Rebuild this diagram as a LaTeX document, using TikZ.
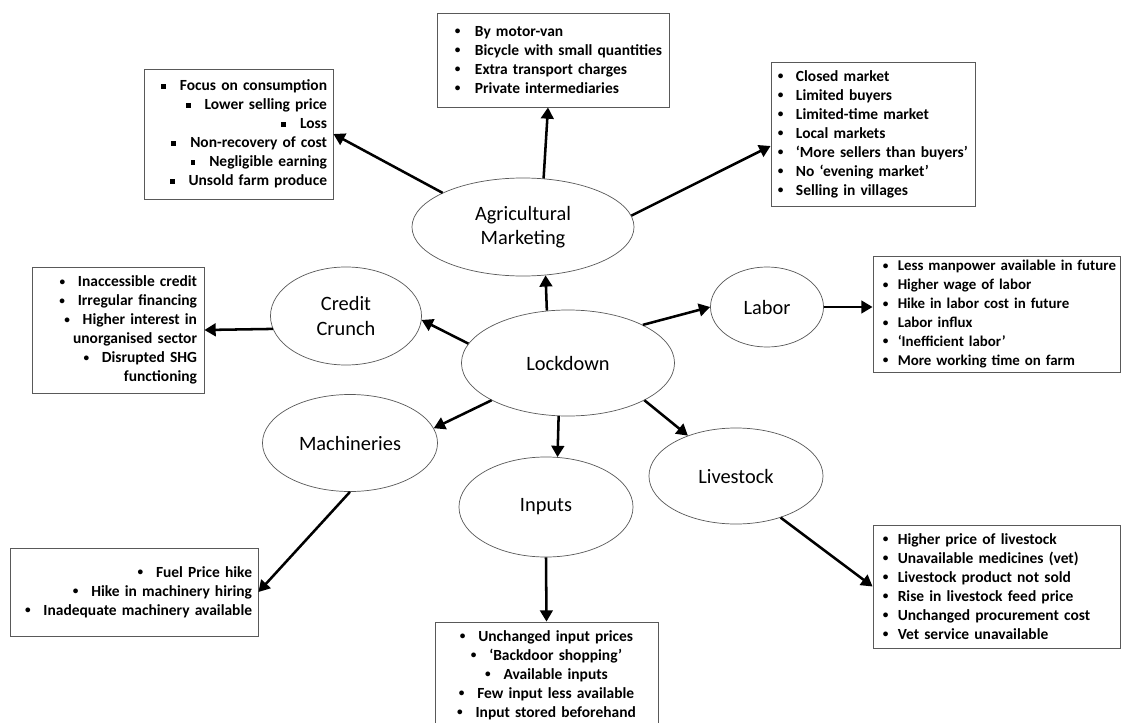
\documentclass[tikz,border=0pt]{standalone}
\usepackage{fontspec}
\setmainfont{Carlito}
\usepackage{tikz}
\usetikzlibrary{shapes.geometric}
\usetikzlibrary{arrows.meta}
\tikzset{>={Triangle[length=8pt,width=9pt]}}
\newlength{\bulw}
\setlength{\bulw}{0.45cm}
\newcommand{\boxfont}{\bfseries\fontsize{11}{13.5}\selectfont}
\newcommand{\ovalfont}{\fontsize{14.5}{17.5}\selectfont}
\newcommand{\dotbul}{\raisebox{0.2ex}{\fontsize{8}{8}\selectfont\textbullet}}
\newcommand{\sqbul}{\rule[1.3pt]{3.4pt}{3.4pt}\hspace{0.35cm}}
\newcommand{\rbul}{\dotbul\hspace{0.32cm}}
\newcommand{\lbul}[1]{\mbox{\makebox[\bulw][l]{\dotbul}#1}}

\begin{document}
\begin{tikzpicture}[x=0.025cm, y=-0.025cm,
    oval/.style={ellipse, draw=gray!70!black, line width=0.5pt, inner sep=0pt, align=center, font=\ovalfont},
    box/.style={draw=gray!70!black, line width=0.6pt, inner ysep=0pt, font=\boxfont},
    link/.style={->, line width=1.8pt}]
    \path[use as bounding box, fill=white] (0,0) rectangle (1121,723);
            % ovals
            \node[oval, minimum width=5.55cm, minimum height=2.45cm] (agri-marketing) at (523,227) {Agricultural\\Marketing};
            \node[oval, minimum width=5.325cm, minimum height=2.65cm] (lockdown) at (568,363) {Lockdown};
            \node[oval, minimum width=3.775cm, minimum height=2.45cm] (credit-crunch) at (346,316) {Credit\\Crunch};
            \node[oval, minimum width=4.375cm, minimum height=2.425cm] (machineries) at (350,443) {Machineries};
            \node[oval, minimum width=2.825cm, minimum height=2cm] (labor) at (767,307) {Labor};
            \node[oval, minimum width=4.35cm, minimum height=2.4cm] (livestock) at (736,476) {Livestock};
            \node[oval, minimum width=4.35cm, minimum height=2.5cm] (inputs) at (546,507) {Inputs};
            % boxes
            \node[box, align=right, inner xsep=0.15cm, text width=4.425cm, minimum height=3.25cm] (focus-box) at (238.5,134) {\sqbul Focus on consumption\\ \sqbul Lower selling price\\ \sqbul Loss\\ \sqbul Non-recovery of cost\\ \sqbul Negligible earning\\ \sqbul Unsold farm produce};
            \node[box, align=left, inner xsep=0.45cm, text width=4.9cm, minimum height=2.35cm] (transport-box) at (553,60) {\setlength{\bulw}{0.5cm}\lbul{By motor-van}\\ \lbul{Bicycle with small quantities}\\ \lbul{Extra transport charges}\\ \lbul{Private intermediaries}};
            \node[box, align=left, inner xsep=0.175cm, text width=4.75cm, minimum height=3.6cm] (market-box) at (873,134) {\lbul{Closed market}\\ \lbul{Limited buyers}\\ \lbul{Limited-time market}\\ \lbul{Local markets}\\ \lbul{‘More sellers than buyers’}\\ \lbul{No ‘evening market’}\\ \lbul{Selling in villages}};
            \node[box, align=right, inner xsep=0.175cm, text width=3.95cm, minimum height=3.15cm] (credit-box) at (118,330) {\rbul Inaccessible credit\\ \rbul Irregular financing\\ \rbul Higher interest in\\ unorganised sector\\ \rbul Disrupted SHG\\ functioning};
            \node[box, align=left, inner xsep=0.25cm, text width=5.675cm, minimum height=2.9cm, font=\bfseries\fontsize{10.6}{13.5}\selectfont] (labor-box) at (996.5,314) {\setlength{\bulw}{0.37cm}\lbul{Less manpower available in future}\\ \lbul{Higher wage of labor}\\ \lbul{Hike in labor cost in future}\\ \lbul{Labor influx}\\ \lbul{‘Inefficient labor’}\\ \lbul{More working time on farm}};
            \node[box, align=left, inner xsep=0.25cm, text width=5.675cm, minimum height=3.075cm] (livestock-box) at (996.5,586.5) {\setlength{\bulw}{0.37cm}\lbul{Higher price of livestock}\\ \lbul{Unavailable medicines (vet)}\\ \lbul{Livestock product not sold}\\ \lbul{Rise in livestock feed price}\\ \lbul{Unchanged procurement cost}\\ \lbul{Vet service unavailable}};
            \node[box, align=right, inner xsep=0.15cm, text width=5.9cm, minimum height=2.2cm] (machinery-box) at (134,592) {\rbul Fuel Price hike\\ \rbul Hike in machinery hiring\\ \rbul Inadequate machinery available};
            \node[box, align=center, inner xsep=0.2cm, text width=5.175cm, minimum height=2.65cm] (inputs-box) at (546.5,675) {\rbul Unchanged input prices\\ \rbul ‘Backdoor shopping’\\ \rbul Available inputs\\ \rbul Few input less available\\ \rbul Input stored beforehand};
            % links
            \draw[link] (lockdown.112) -- (agri-marketing.295);
            \draw[link] (lockdown.169) -- (credit-crunch.-3);
            \draw[link] (lockdown.206) -- (machineries.10);
            \draw[link] (lockdown.260) -- (inputs.77);
            \draw[link] (lockdown.27) -- (labor.west);
            \draw[link] (lockdown.334) -- (livestock.140);
            \draw[link] (agri-marketing.157) -- (focus-box.east);
            \draw[link] (agri-marketing.67) -- ([xshift=-0.125cm]transport-box.south);
            \draw[link] (agri-marketing.6) -- ([yshift=-0.3cm]market-box.west);
            \draw[link] (credit-crunch.190) -- (credit-box.east);
            \draw[link] (labor.east) -- (labor.east -| labor-box.west);
            \draw[link] (livestock.317) -- (livestock-box.west);
            \draw[link] (machineries.south) -- (machinery-box.east);
            \draw[link] (inputs.south) -- (inputs-box.north);
        \end{tikzpicture}
\end{document}
